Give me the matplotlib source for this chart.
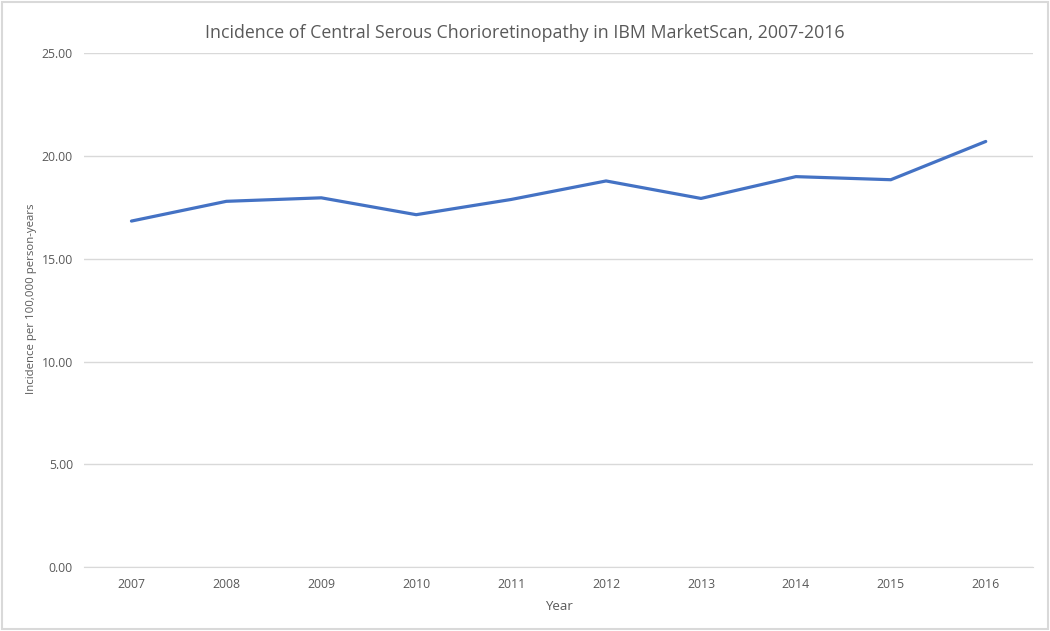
import matplotlib.pyplot as plt

years = ['2007', '2008', '2009', '2010', '2011', '2012', '2013', '2014', '2015', '2016']
incidence = [16.83, 17.79, 17.96, 17.14, 17.88, 18.78, 17.93, 18.99, 18.84, 20.70]
yticks = [0, 5, 10, 15, 20, 25]

plt.rcParams['font.family'] = ['Open Sans', 'DejaVu Sans']

fig = plt.figure(figsize=(10.5, 6.31), dpi=100)
ax = fig.add_axes([0.080, 0.101, 0.904, 0.815])

x = range(len(years))
ax.plot(x, incidence, color='#4472C4', lw=2.3, solid_capstyle='round')

ax.set_xlim(-0.5, len(years) - 0.5)
ax.set_ylim(0, 25)
ax.set_yticks(yticks)
ax.set_yticklabels(['%.2f' % v for v in yticks])
ax.set_xticks(list(x))
ax.set_xticklabels(years)
ax.tick_params(axis='both', length=0, labelsize=8.8, colors='#595959', pad=8)
ax.grid(axis='y', color='#D9D9D9', lw=1)
ax.set_axisbelow(True)
for s in ['top', 'right', 'left']:
    ax.spines[s].set_visible(False)
ax.spines['bottom'].set_color('#D9D9D9')

ax.set_xlabel('Year', fontsize=9.5, color='#595959', labelpad=6)
ax.set_ylabel('Incidence per 100,000 person-years', fontsize=8.2, color='#595959')
ax.yaxis.set_label_coords(-0.049, 0.523)
fig.text(0.5, 0.948, 'Incidence of Central Serous Chorioretinopathy in IBM MarketScan, 2007-2016',
         ha='center', va='center', fontsize=12.8, color='#595959')

# light frame round the chart area
fig.patches.append(plt.Rectangle((0.002, 0.003), 0.996, 0.994, transform=fig.transFigure,
                                 fill=False, edgecolor='#D9D9D9', lw=1.5))

fig.savefig('out.png', dpi=100)
